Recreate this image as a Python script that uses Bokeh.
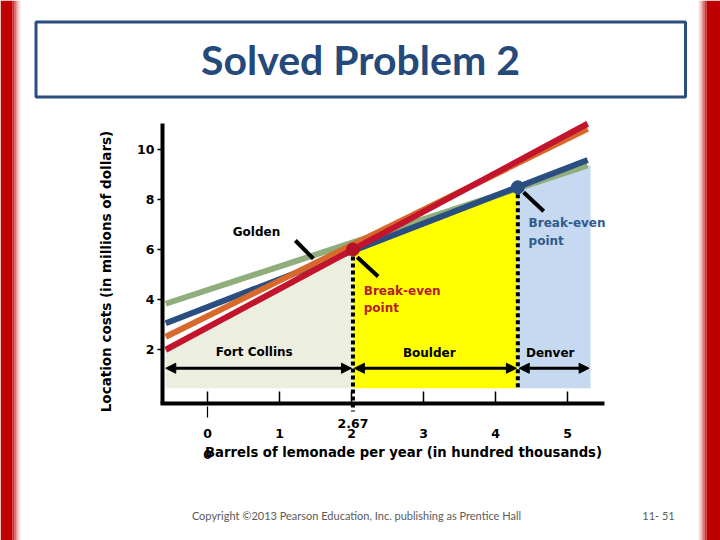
import math
from bokeh.plotting import figure
from bokeh.models import Label, BoxAnnotation, Arrow, NormalHead, Range1d
from bokeh.embed import file_html
from bokeh.resources import INLINE
from bokeh.core.properties import value

# total cost lines (x: hundred thousand barrels, y: $ millions)
x_ends = [-0.58, 5.28]
fort_collins = [1.99, 11.03]
golden = [2.51, 10.83]
boulder = [3.05, 9.58]
denver = [3.83, 9.36]

# break-even points
be_x = [2.02, 4.31]
be_y = [6.0, 8.49]

# shaded regions (lowest-cost location)
floor_y = 0.45
region_right = 5.32
region_right_top = 9.38
arrow_y = 1.25

x_ticks = [0, 1, 2, 3, 4, 5]
y_ticks = [2, 4, 6, 8, 10]
x_tick_labels = ["0", "1", "2", "3", "4", "5"]
y_tick_labels = ["2", "4", "6", "8", "10"]

RED = "#C3142D"
ORANGE = "#D8692C"
BLUE = "#2B4E80"
GREEN = "#8FAE7B"
SLIDE_RED = "#C00000"
TXT = "DejaVu Sans"


# the slide is laid out in pixels; these turn slide pixels into chart units
def sx(px):
    return (px - 207) / 72


def sy(py):
    return (399 - py) / 25


p = figure(width=720, height=540, output_backend="svg", toolbar_location=None,
           x_axis_type=None, y_axis_type=None,
           x_range=Range1d(sx(0), sx(720)), y_range=Range1d(sy(540), sy(0)), min_border=0)
p.outline_line_color = None
p.grid.visible = False

# regions
p.varea(x=[x_ends[0], be_x[0]], y1=[floor_y, floor_y], y2=[fort_collins[0], be_y[0]],
        fill_color="#ECEEDF")
p.varea(x=[be_x[0], be_x[1]], y1=[floor_y, floor_y], y2=[be_y[0], be_y[1]],
        fill_color="#FFFF00")
p.varea(x=[be_x[1], region_right], y1=[floor_y, floor_y], y2=[be_y[1], region_right_top],
        fill_color="#C6D9F0")

# axes
axis_y = sy(403)
p.line([sx(160), sx(604)], [axis_y, axis_y], line_color="black", line_width=4)
p.line([sx(162), sx(162)], [axis_y, sy(123)], line_color="black", line_width=4)
p.segment(x0=x_ticks, y0=[sy(391)] * len(x_ticks), x1=x_ticks, y1=[axis_y] * len(x_ticks),
          line_color="black", line_width=1.5)
p.segment(x0=[sx(157)] * len(y_ticks), y0=y_ticks, x1=[sx(162)] * len(y_ticks), y1=y_ticks,
          line_color="black", line_width=1.5)
p.text(x=x_ticks, y=[sy(433)] * len(x_ticks), text=x_tick_labels, text_font=value(TXT),
       text_font_style="bold", text_font_size="12.5px", text_align="center", text_baseline="middle")
p.text(x=[sx(154)] * len(y_ticks), y=y_ticks, text=y_tick_labels, text_font=value(TXT),
       text_font_style="bold", text_font_size="12.5px", text_align="right", text_baseline="middle")
p.segment(x0=[0], y0=[sy(406)], x1=[0], y1=[sy(417)], line_color="black", line_width=1.2)

# dotted break-even verticals
p.segment(x0=[be_x[0], be_x[1]], y0=[be_y[0], be_y[1]], x1=[be_x[0], be_x[1]], y1=[sy(411), floor_y],
          line_color="black", line_width=4, line_dash="4 3")

# cost lines
p.line(x_ends, denver, line_color=GREEN, line_width=6)
p.line(x_ends, boulder, line_color=BLUE, line_width=6)
p.line(x_ends, golden, line_color=ORANGE, line_width=6)
p.line(x_ends, fort_collins, line_color=RED, line_width=6)

p.scatter([be_x[0]], [be_y[0]], size=13, color="#B5122A")
p.scatter([be_x[1]], [be_y[1]], size=13, color=BLUE)

# callout ticks
p.segment(x0=[1.22, 2.08, 4.39], y0=[6.36, 5.69, 8.29], x1=[1.47, 2.37, 4.67], y1=[5.63, 4.92, 7.53],
          line_color="black", line_width=4)

# range arrows
for xs, xe in [(x_ends[0], be_x[0] - 0.02), (be_x[0] + 0.02, be_x[1] - 0.02),
               (be_x[1] + 0.02, region_right - 0.02)]:
    p.add_layout(Arrow(x_start=xs, y_start=arrow_y, x_end=xe, y_end=arrow_y, line_width=3,
                       start=NormalHead(size=10, fill_color="black", line_color="black"),
                       end=NormalHead(size=10, fill_color="black", line_color="black")))


def lab(x, y, text, color="black", size="12px", align="center", bold=True, font=TXT, angle=0):
    p.add_layout(Label(x=x, y=y, text=text, text_color=color, angle=angle,
                       text_font=font, text_font_size=size, text_align=align,
                       text_baseline="middle", text_font_style="bold" if bold else "normal"))


lab(0.68, 6.72, "Golden")
lab(0.65, 1.89, "Fort Collins")
lab(3.08, 1.85, "Boulder")
lab(4.76, 1.88, "Denver")
lab(2.17, 4.36, "Break-even", color="#B5202B", align="left")
lab(2.17, 3.68, "point", color="#B5202B", align="left")
lab(4.46, 7.08, "Break-even", color="#2F5B8C", align="left")
lab(4.46, 6.36, "point", color="#2F5B8C", align="left")
lab(be_x[0], sy(423), "2.67", size="12.5px")
lab(sx(207), sy(454), "0", size="12.5px")
lab(sx(403), sy(452), "Barrels of lemonade per year (in hundred thousands)", size="13.2px")
lab(sx(105), sy(271), "Location costs (in millions of dollars)", size="13.5px", angle=math.pi / 2)

# slide decoration: red side bars fading to white, title box, footer
p.add_layout(BoxAnnotation(left=sx(0), right=sx(12), bottom=sy(540), top=sy(0),
                           fill_color=SLIDE_RED, fill_alpha=1, line_color=None))
p.add_layout(BoxAnnotation(left=sx(706), right=sx(720), bottom=sy(540), top=sy(0),
                           fill_color=SLIDE_RED, fill_alpha=1, line_color=None))
for i, a in enumerate([0.8, 0.55, 0.3, 0.12]):
    p.add_layout(BoxAnnotation(left=sx(12 + 2 * i), right=sx(14 + 2 * i), bottom=sy(540), top=sy(0),
                               fill_color=SLIDE_RED, fill_alpha=a, line_color=None))
    p.add_layout(BoxAnnotation(left=sx(704 - 2 * i), right=sx(706 - 2 * i), bottom=sy(540), top=sy(0),
                               fill_color=SLIDE_RED, fill_alpha=a, line_color=None))
p.add_layout(BoxAnnotation(left=sx(35.5), right=sx(685), top=sy(21.5), bottom=sy(96.5),
                           fill_alpha=0, line_color="#2A4F7E", line_alpha=1, line_width=3))
lab(sx(360), sy(59), "Solved Problem 2", color="#244A7C", size="41px", font="Lato")
lab(sx(356), sy(515), "Copyright \u00a92013 Pearson Education, Inc. publishing as Prentice Hall",
    color="#5A5A5A", size="11px", bold=False, font="Lato")
lab(sx(658), sy(515), "11- 51", color="#5A5A5A", size="11px", bold=False, font="Lato")

open("out.html", "w").write(file_html(p, INLINE))
